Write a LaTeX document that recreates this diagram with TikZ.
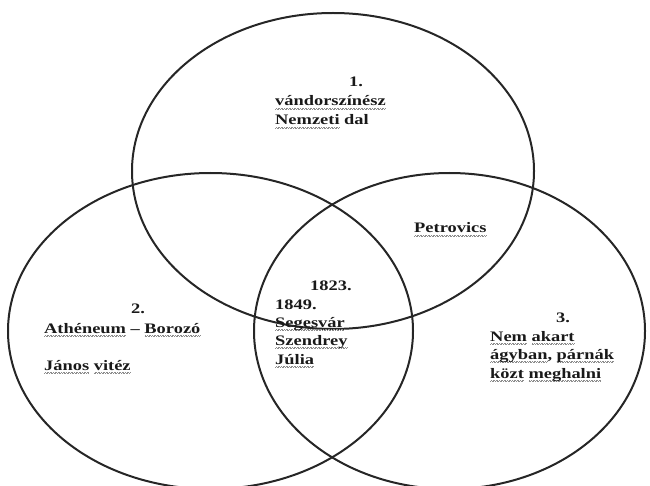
\documentclass[tikz,border=0pt]{standalone}
\usepackage{fontspec}
\setmainfont{Liberation Serif}[FakeStretch=1.27]
\usetikzlibrary{shapes.geometric}

% grey spell-check wave under a word
\newsavebox\wavebox
\newcommand\spellwave[1]{\sbox\wavebox{#1}%
  \rlap{\textcolor{black!45}{\hbox to \wd\wavebox{\xleaders
    \hbox{\rule[-3.6pt]{0.8pt}{0.55pt}\rule[-3.0pt]{0.8pt}{0.55pt}}\hfil}}}%
  \usebox\wavebox}

\begin{document}
\begin{tikzpicture}[
  x=1pt, y=-1pt,
  ring/.style={ellipse, draw=black!85, line width=2pt, inner sep=0pt},
  word/.style={anchor=base west, inner sep=0pt, text=black!90,
    font=\fontsize{14.5}{18.5}\selectfont\bfseries}
]
  \useasboundingbox (0,0) rectangle (650,486);

  %% ------------------------------------------------------------ the rings
  \node[ring, minimum width=402pt, minimum height=316pt] (ring1) at (333,171) {};
  \node[ring, minimum width=405pt, minimum height=316pt] (ring2) at (210.5,331) {};
  \node[ring, minimum width=391pt, minimum height=316pt] (ring3) at (449.5,331) {};

  %% ------------------------------------------------------------ ring 1
  \node[word] (t1a) at (349,87)  {1.};
  \node[word] (t1b) at (275,106) {\spellwave{vándorszínész}};
  \node[word] (t1c) at (275,125) {\spellwave{Nemzeti} dal};

  % shared by 1 and 3
  \node[word] (t13) at (414,233) {\spellwave{Petrovics}};

  %% ------------------------------------------------------------ the middle
  \node[word] (tma) at (310,290) {1823.};
  \node[word] (tmb) at (275,309) {1849.};
  \node[word] (tmc) at (275,327) {\spellwave{Segesvár}};
  \node[word] (tmd) at (275,345) {\spellwave{Szendrey}};
  \node[word] (tme) at (275,364) {\spellwave{Júlia}};

  %% ------------------------------------------------------------ ring 2
  \node[word] (t2a) at (131,313) {2.};
  \node[word] (t2b) at (44,333)  {\spellwave{Athéneum} -- \spellwave{Borozó}};
  \node[word] (t2c) at (44,370)  {\spellwave{János} \spellwave{vitéz}};

  %% ------------------------------------------------------------ ring 3
  \node[word] (t3a) at (556,322) {3.};
  \node[word] (t3b) at (490,341) {\spellwave{Nem} \spellwave{akart}};
  \node[word] (t3c) at (490,359) {\spellwave{ágyban}, \spellwave{párnák}};
  \node[word] (t3d) at (490,378) {\spellwave{közt} \spellwave{meghalni}};

\end{tikzpicture}
\end{document}
